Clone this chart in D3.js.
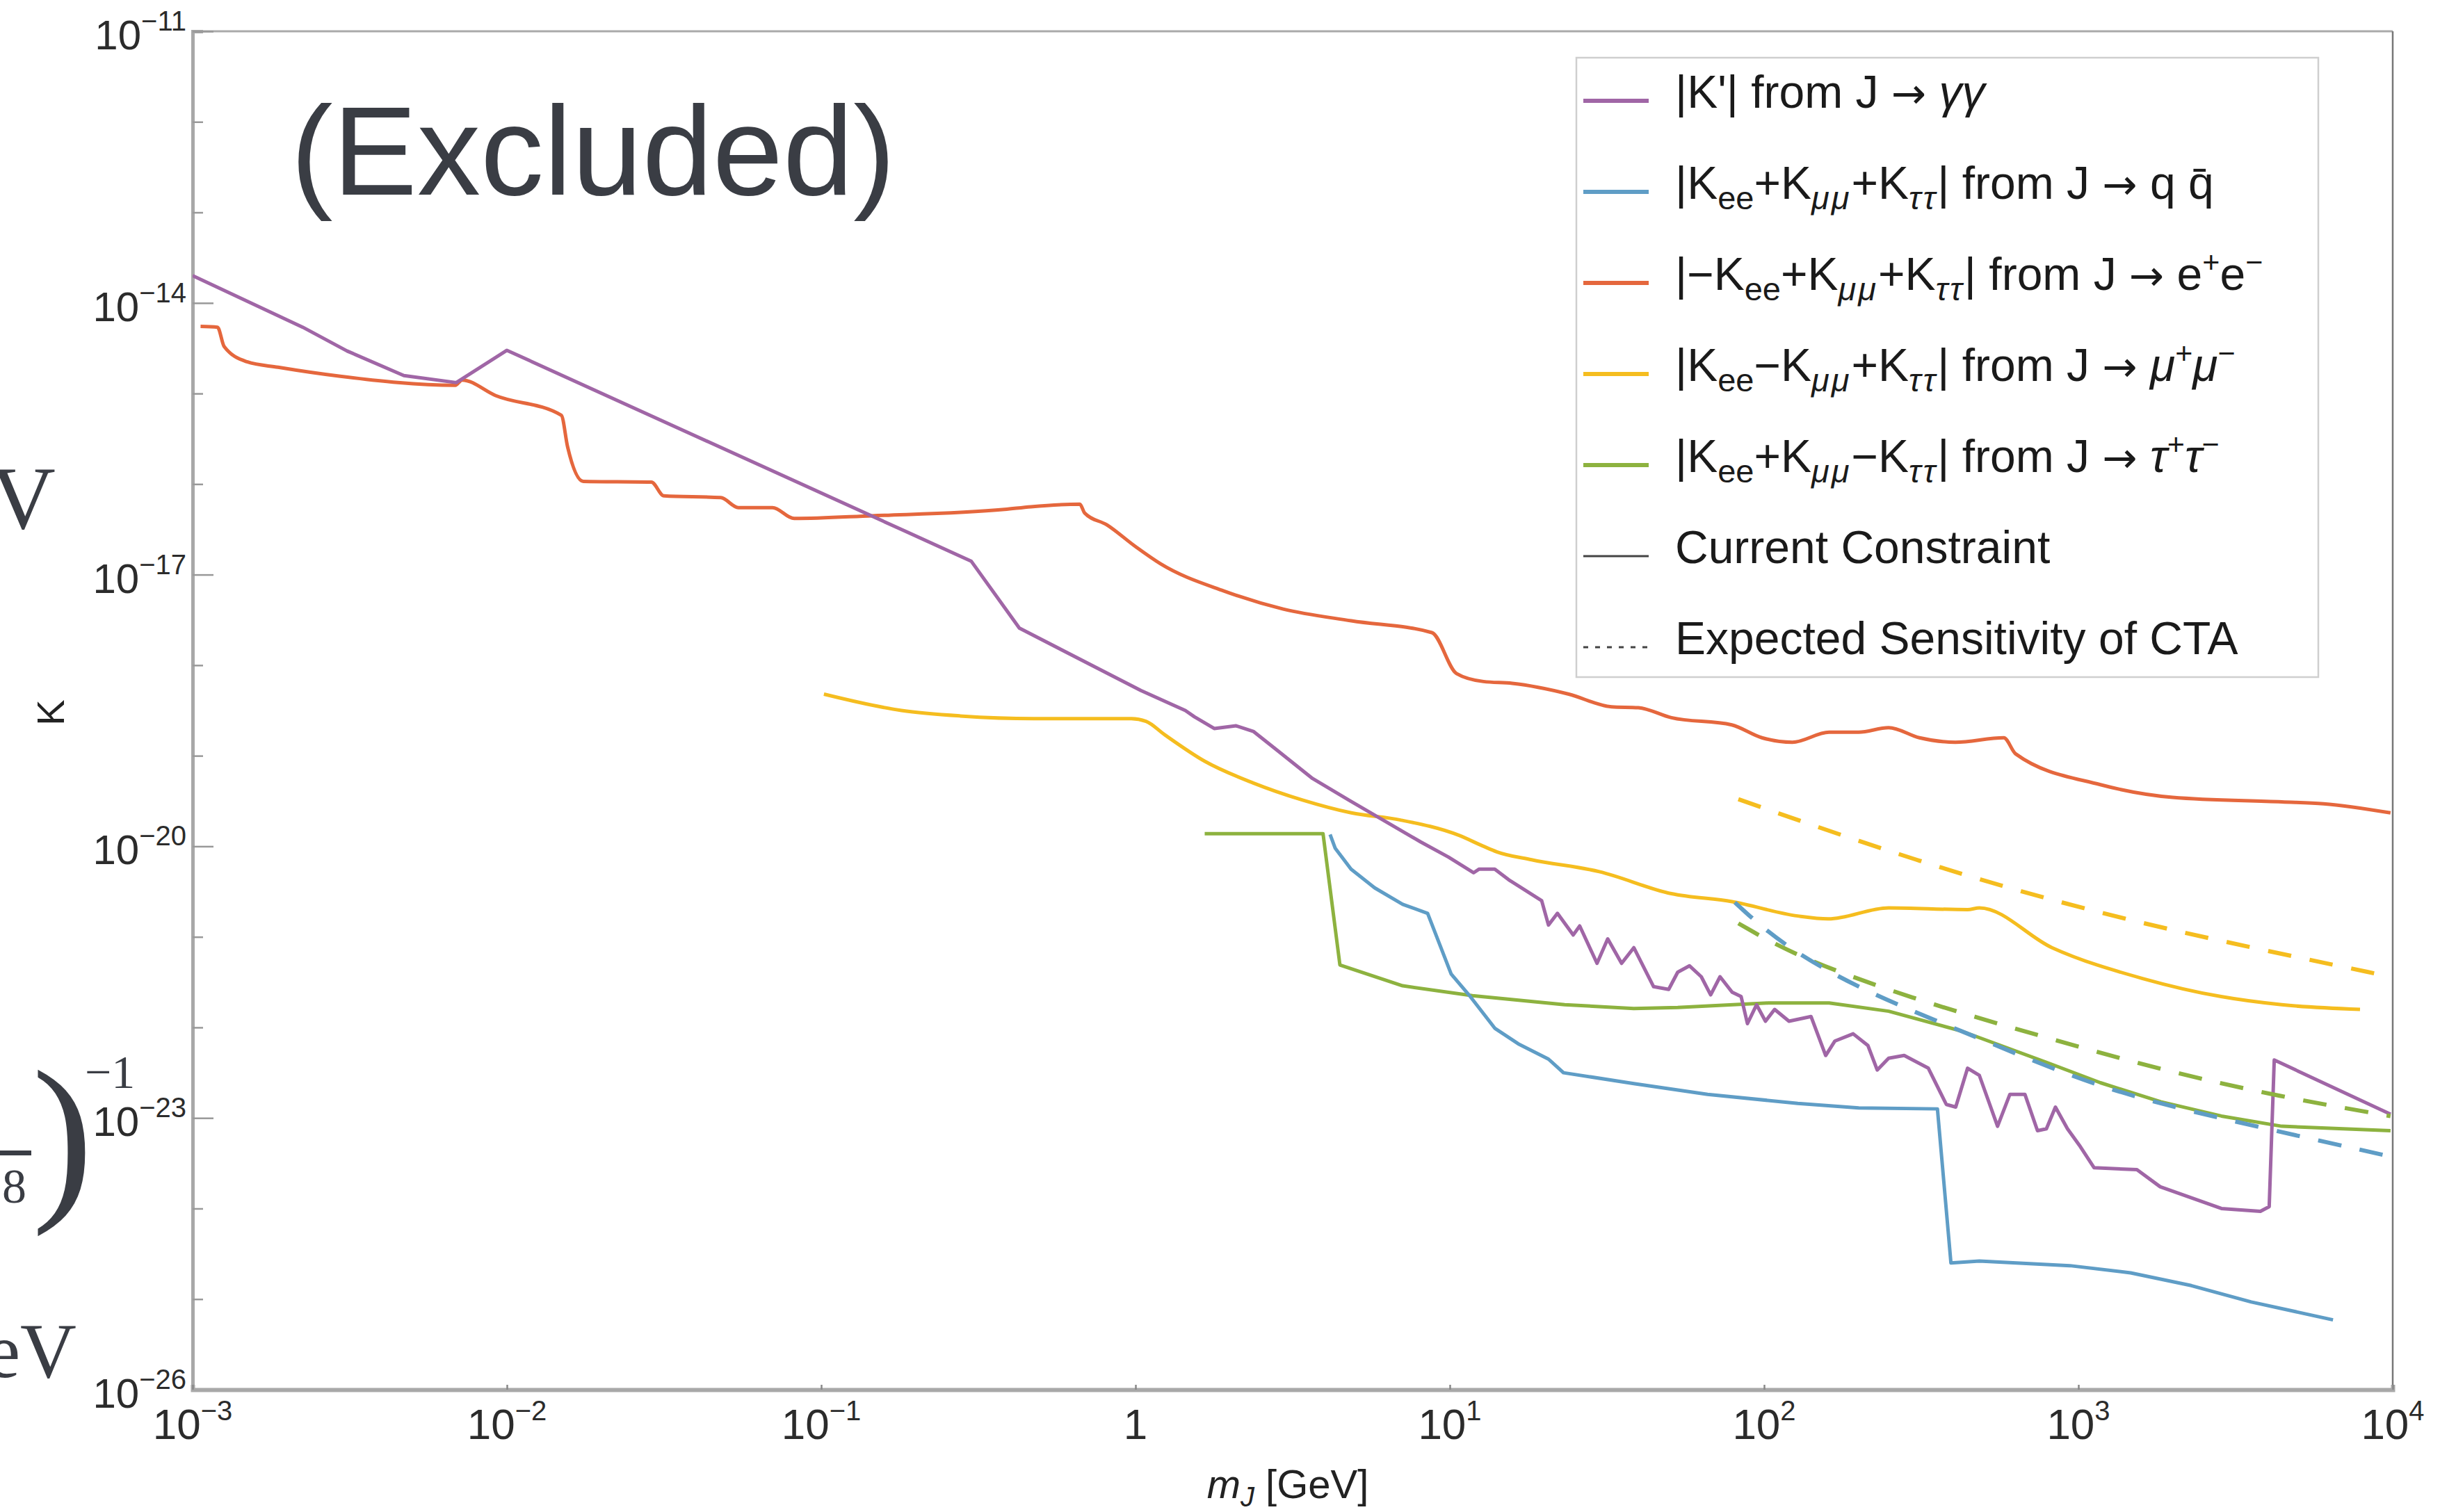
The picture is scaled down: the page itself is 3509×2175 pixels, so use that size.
<!DOCTYPE html>
<html>
<head>
<meta charset="utf-8">
<script src="https://cdn.jsdelivr.net/npm/d3@7"></script>
<style>
  html, body { margin: 0; padding: 0; background: #fff; }
  svg { display: block; }
  text { font-family: "Liberation Sans", Arial, Helvetica, sans-serif; }
</style>
</head>
<body>
<div id="chart"></div>
<script>
// [m_J in GeV, K]
const purpleK = [
  [1.0e-3, 2.0e-14], [2.24e-3, 5.4e-15], [3.1e-3, 2.95e-15], [4.7e-3, 1.58e-15], [6.9e-3, 1.32e-15],
  [1.0e-2, 3.0e-15], [0.30, 1.41e-17], [0.427, 2.57e-18], [1.04, 5.25e-19], [1.44, 3.16e-19],
  [1.54, 2.69e-19], [1.78, 2.0e-19], [2.09, 2.14e-19], [2.37, 1.86e-19], [2.85, 1.12e-19],
  [3.66, 5.6e-20], [4.77, 3.24e-20], [8.07, 1.12e-20], [9.9, 7.6e-21], [11.9, 5.1e-21],
  [12.4, 5.6e-21], [13.9, 5.6e-21], [15.4, 4.27e-21], [19.6, 2.51e-21],
  [20.6, 1.35e-21], [22.0, 1.82e-21], [24.7, 1.05e-21], [25.9, 1.32e-21],
  [29.4, 5.1e-22], [31.8, 9.5e-22], [35.2, 5.1e-22], [38.5, 7.6e-22], [44.5, 2.82e-22],
  [49.7, 2.63e-22], [53.1, 4.07e-22], [57.9, 4.79e-22], [63.1, 3.63e-22], [67.6, 2.29e-22],
  [72.4, 3.63e-22], [79.1, 2.45e-22], [84.5, 2.19e-22], [88.5, 1.10e-22], [94.6, 1.78e-22],
  [101, 1.17e-22], [108, 1.58e-22], [120, 1.17e-22], [141, 1.32e-22], [157, 4.9e-23],
  [168, 7.08e-23], [192, 8.5e-23], [214, 6.3e-23], [229, 3.39e-23], [249, 4.57e-23],
  [279, 4.9e-23], [333, 3.55e-23], [380, 1.41e-23], [407, 1.32e-23], [444, 3.55e-23],
  [484, 2.95e-23], [553, 8.1e-24], [605, 1.82e-23], [676, 1.82e-23], [741, 7.24e-24],
  [791, 7.6e-24], [845, 1.32e-23], [923, 7.6e-24], [1007, 5.0e-24], [1122, 2.82e-24],
  [1535, 2.69e-24], [1820, 1.74e-24], [2851, 1.0e-24], [3793, 9.3e-25], [4046, 1.05e-24],
  [4198, 4.37e-23], [9840, 1.10e-23]
];

const blueQQ = [
  [4.16, 1.35e-20], [4.32, 9.5e-21], [4.85, 5.6e-21], [5.77, 3.47e-21], [7.08, 2.29e-21],
  [8.5, 1.82e-21], [10.1, 3.89e-22], [11.5, 2.29e-22], [13.9, 9.8e-23], [16.5, 6.6e-23],
  [20.6, 4.47e-23], [23.0, 3.16e-23], [38.5, 2.4e-23], [66.1, 1.82e-23],
  [128, 1.45e-23], [200, 1.29e-23], [356, 1.26e-23], [393, 2.51e-25], [484, 2.63e-25],
  [940, 2.34e-25], [1466, 1.95e-25], [2286, 1.41e-25], [3548, 9.3e-26], [6457, 5.9e-26]
];

const orangeEE = [
  [1.06e-3, 5.5e-15], [1.2e-3, 5.4e-15], [1.26e-3, 3.3e-15], [1.49e-3, 2.24e-15], [1.87e-3, 1.95e-15],
  [2.95e-3, 1.55e-15], [6.85e-3, 1.23e-15], [7.2e-3, 1.41e-15], [9.2e-3, 9.5e-16], [1.49e-2, 5.75e-16],
  [1.56e-2, 2.57e-16], [1.75e-2, 1.07e-16], [2.88e-2, 1.05e-16], [3.16e-2, 7.4e-17], [4.79e-2, 7.08e-17],
  [5.45e-2, 5.5e-17], [7.0e-2, 5.5e-17], [8.2e-2, 4.17e-17], [0.145, 4.47e-17], [0.383, 5.25e-17],
  [0.465, 5.62e-17], [0.665, 6.0e-17], [0.689, 4.79e-17], [0.81, 3.55e-17], [1.0, 2.04e-17],
  [1.2, 1.32e-17], [1.91, 6.6e-18], [2.95, 4.17e-18], [4.86, 3.09e-18], [8.77, 2.29e-18],
  [10.5, 8.1e-19], [12.8, 6.6e-19], [15.8, 6.3e-19], [23.9, 4.79e-19], [32.7, 3.47e-19],
  [39.8, 3.39e-19], [50.7, 2.63e-19], [78.9, 2.19e-19], [98.4, 1.58e-19], [123, 1.41e-19],
  [161, 1.82e-19], [200, 1.82e-19], [249, 2.04e-19], [312, 1.58e-19], [406, 1.41e-19],
  [579, 1.58e-19], [631, 1.05e-19], [1175, 4.79e-20], [1995, 3.47e-20], [4436, 3.09e-20],
  [6026, 2.95e-20], [9840, 2.34e-20]
];

const yellowMuMu = [
  [0.102, 4.79e-19], [0.18, 3.16e-19], [0.277, 2.75e-19], [0.475, 2.57e-19], [0.97, 2.57e-19],
  [1.08, 2.4e-19], [1.24, 1.7e-19], [1.66, 8.7e-20], [2.37, 5.0e-20], [3.4, 3.24e-20],
  [4.86, 2.34e-20], [6.97, 1.95e-20], [10.7, 1.32e-20], [12.8, 1.0e-20], [14.1, 8.7e-21],
  [18.2, 7.1e-21], [29.9, 5.25e-21], [50.7, 3.0e-21], [79.1, 2.45e-21], [128, 1.7e-21],
  [160, 1.58e-21], [249, 2.09e-21], [444, 2.0e-21], [484, 2.09e-21], [824, 7.6e-22],
  [1600, 3.47e-22], [2844, 2.19e-22], [4436, 1.78e-22], [7870, 1.58e-22]
];

const greenTauTau = [
  [1.66, 1.38e-20], [3.95, 1.38e-20], [4.47, 4.9e-22], [7.08, 2.88e-22], [11.8, 2.24e-22],
  [23.2, 1.78e-22], [38.5, 1.62e-22], [53.1, 1.66e-22], [103, 1.86e-22], [161, 1.86e-22],
  [249, 1.51e-22], [425, 9.1e-23], [755, 4.37e-23], [1175, 2.45e-23], [1828, 1.51e-23],
  [2851, 1.05e-23], [4436, 8.1e-24], [9840, 7.24e-24]
];

// expected CTA sensitivity (dashed)
const yellowCTA = [[82.8, 3.31e-20], [312, 6.6e-21], [1175, 1.78e-21], [3548, 7.6e-22], [9840, 3.63e-22]];
const blueCTA = [[80.7, 2.4e-21], [112, 8.5e-22], [200, 2.63e-22], [484, 7.6e-23], [1175, 2.09e-23], [2851, 9.8e-24], [9397, 3.89e-24]];
const greenCTA = [[82.8, 1.41e-21], [128, 5.9e-22], [312, 1.95e-22], [755, 8.1e-23], [1828, 3.39e-23], [4436, 1.7e-23], [9840, 1.05e-23]];

const xTicks = [1e-3, 1e-2, 1e-1, 1, 1e1, 1e2, 1e3, 1e4];
const xTickExp = ['−3', '−2', '−1', '', '1', '2', '3', '4'];
const yTicks = [1e-11, 1e-14, 1e-17, 1e-20, 1e-23, 1e-26];
const yTickExp = ['−11', '−14', '−17', '−20', '−23', '−26'];
const yMinorTicks = [1e-12, 1e-13, 1e-15, 1e-16, 1e-18, 1e-19, 1e-21, 1e-22, 1e-24, 1e-25];

const legendLabels = [
  [["|K'| from J ", ""], ["→", "arrow"], [" ", ""], ["γγ", "i"]],
  [["|K", ""], ["ee", "sub"], ["+K", ""], ["μμ", "subi"], ["+K", ""], ["ττ", "subi"], ["| from J ", ""], ["→", "arrow"], [" q q\u0304", ""]],
  [["|−K", ""], ["ee", "sub"], ["+K", ""], ["μμ", "subi"], ["+K", ""], ["ττ", "subi"], ["| from J ", ""], ["→", "arrow"], [" e", ""], ["+", "sup"], ["e", ""], ["−", "sup"]],
  [["|K", ""], ["ee", "sub"], ["−K", ""], ["μμ", "subi"], ["+K", ""], ["ττ", "subi"], ["| from J ", ""], ["→", "arrow"], [" ", ""], ["μ", "i"], ["+", "sup"], ["μ", "i"], ["−", "sup"]],
  [["|K", ""], ["ee", "sub"], ["+K", ""], ["μμ", "subi"], ["−K", ""], ["ττ", "subi"], ["| from J ", ""], ["→", "arrow"], [" ", ""], ["τ", "i"], ["+", "sup"], ["τ", "i"], ["−", "sup"]],
  [["Current Constraint", ""]],
  [["Expected Sensitivity of CTA", ""]]
];

const colors = {
  purple: '#a066a6',
  blue: '#5f9dc6',
  orange: '#e5673d',
  yellow: '#f5bd1f',
  green: '#8db23f',
  dark: '#444'
};

const W = 3509, H = 2175;
const margin = {top: 45, right: 68, bottom: 176, left: 277};
const width = W - margin.left - margin.right;
const height = H - margin.top - margin.bottom;

const svg = d3.select('#chart')
  .append('svg')
    .attr('width', W)
    .attr('height', H);

// pieces of the neighbouring figure that are cut off at the left edge
const serif = '"Liberation Serif", "Times New Roman", serif';
const clip = svg.append('g').attr('fill', '#3a3d44');
clip.append('text').attr('x', 80).attr('y', 760).attr('text-anchor', 'end')
  .style('font-family', serif).attr('font-size', 130).text('V');
clip.append('text').attr('x', 46).attr('y', 1722)
  .style('font-family', serif).attr('font-size', 264).text(')');
clip.append('text').attr('x', 122).attr('y', 1565)
  .style('font-family', serif).attr('font-size', 68).text('−1');
clip.append('text').attr('x', 38).attr('y', 1730).attr('text-anchor', 'end')
  .style('font-family', serif).attr('font-size', 70).text('8');
clip.append('rect').attr('x', 0).attr('y', 1655).attr('width', 45).attr('height', 7);
clip.append('text').attr('x', 110).attr('y', 1981).attr('text-anchor', 'end')
  .style('font-family', serif).attr('font-size', 112).text('eV');

const g = svg.append('g')
  .attr('transform', `translate(${margin.left}, ${margin.top})`);

const x = d3.scaleLog().domain([1e-3, 1e4]).range([0, width]);
const y = d3.scaleLog().domain([1e-26, 1e-11]).range([height, 0]);

// frame
g.append('line').attr('x1', 0).attr('x2', width).attr('y1', 0).attr('y2', 0)
  .attr('stroke', '#aaa').attr('stroke-width', 3);
g.append('line').attr('x1', width).attr('x2', width).attr('y1', 0).attr('y2', height)
  .attr('stroke', '#777').attr('stroke-width', 2.5);

// y axis
const yAxis = g.append('g')
  .call(d3.axisLeft(y).tickValues(yTicks.concat(yMinorTicks)).tickSize(-15).tickFormat(''));
yAxis.select('.domain').attr('stroke', '#a8a8a8').attr('stroke-width', 5);
yAxis.selectAll('.tick line')
  .attr('stroke', '#999').attr('stroke-width', 2.5)
  .attr('x2', (d) => yTicks.includes(d) ? 30 : 15);

yTicks.forEach((v, i) => {
  const t = g.append('text')
    .attr('x', -9)
    .attr('y', y(v) + 26)
    .attr('text-anchor', 'end')
    .attr('fill', '#2b2b2b')
    .attr('font-size', 60);
  t.append('tspan').text('10');
  t.append('tspan').attr('dy', -27).attr('font-size', 40).text(yTickExp[i]);
});

// x axis
const xAxis = g.append('g')
  .attr('transform', `translate(0, ${height})`)
  .call(d3.axisBottom(x).tickValues(xTicks).tickSize(-7).tickFormat(''));
xAxis.select('.domain').attr('stroke', '#a8a8a8').attr('stroke-width', 6);
xAxis.selectAll('.tick line').attr('stroke', '#888').attr('stroke-width', 2.5);

xTicks.forEach((v, i) => {
  const t = g.append('text')
    .attr('x', x(v))
    .attr('y', height + 71)
    .attr('text-anchor', 'middle')
    .attr('fill', '#2b2b2b')
    .attr('font-size', 62);
  if (xTickExp[i] === '') {
    t.text('1');
  } else {
    t.append('tspan').text('10');
    t.append('tspan').attr('dy', -27).attr('font-size', 40).text(xTickExp[i]);
  }
});

// axis titles
const xTitle = g.append('text')
  .attr('x', x(1e1) - 233)
  .attr('y', height + 156)
  .attr('text-anchor', 'middle')
  .attr('fill', '#222')
  .attr('font-size', 58);
xTitle.append('tspan').attr('font-style', 'italic').text('m');
xTitle.append('tspan').attr('font-style', 'italic').attr('font-size', 40).attr('dy', 12).text('J');
xTitle.append('tspan').attr('dy', -12).text(' [GeV]');

svg.append('text')
  .attr('transform', `translate(92, 1025) rotate(-90)`)
  .attr('text-anchor', 'middle')
  .attr('fill', '#222')
  .attr('font-size', 56)
  .text('K');

// curves
g.append('clipPath').attr('id', 'plot-clip')
  .append('rect').attr('width', width).attr('height', height);

const line = d3.line()
  .x((d) => x(d[0]))
  .y((d) => y(d[1]));
const smooth = d3.line()
  .x((d) => x(d[0]))
  .y((d) => y(d[1]))
  .curve(d3.curveMonotoneX);

const plot = g.append('g').attr('clip-path', 'url(#plot-clip)');

const series = [
  {data: orangeEE, color: colors.orange, gen: smooth},
  {data: yellowMuMu, color: colors.yellow, gen: smooth},
  {data: greenTauTau, color: colors.green, gen: line},
  {data: blueQQ, color: colors.blue, gen: line},
  {data: purpleK, color: colors.purple, gen: line}
];
series.forEach((s) => {
  plot.append('path')
    .datum(s.data)
    .attr('fill', 'none')
    .attr('stroke', s.color)
    .attr('stroke-width', 5)
    .attr('stroke-linejoin', 'round')
    .attr('d', s.gen);
});

[[yellowCTA, colors.yellow], [greenCTA, colors.green], [blueCTA, colors.blue]].forEach(([data, color]) => {
  plot.append('path')
    .datum(data)
    .attr('fill', 'none')
    .attr('stroke', color)
    .attr('stroke-width', 6)
    .attr('stroke-dasharray', '34,27')
    .attr('d', d3.line().x((d) => x(d[0])).y((d) => y(d[1])).curve(d3.curveBasis));
});

// big label
svg.append('text')
  .attr('x', 418)
  .attr('y', 280)
  .attr('fill', '#3a3d44')
  .attr('font-size', 182)
  .text('(Excluded)');

// legend
const legend = svg.append('g');
legend.append('rect')
  .attr('x', 2267).attr('y', 83)
  .attr('width', 1067).attr('height', 891)
  .attr('fill', '#fff')
  .attr('stroke', '#cfcfcf')
  .attr('stroke-width', 2.5);

const legendStyles = [
  {color: colors.purple, w: 6},
  {color: colors.blue, w: 6},
  {color: colors.orange, w: 6},
  {color: colors.yellow, w: 6},
  {color: colors.green, w: 6},
  {color: colors.dark, w: 3},
  {color: colors.dark, w: 3, dash: '7,10'}
];

const fs = 66;
legendLabels.forEach((parts, i) => {
  const cy = 145 + i * 131;
  const st = legendStyles[i];
  legend.append('line')
    .attr('x1', 2277).attr('x2', 2371)
    .attr('y1', cy).attr('y2', cy)
    .attr('stroke', st.color)
    .attr('stroke-width', st.w)
    .attr('stroke-dasharray', st.dash || null);

  const t = legend.append('text')
    .attr('x', 2409)
    .attr('y', cy + 10)
    .attr('fill', '#1a1a1a')
    .attr('font-size', fs)
    .style('white-space', 'pre');
  let shift = 0;
  parts.forEach(([str, kind]) => {
    let target = 0, size = fs, italic = false, family = null, spacing = null;
    if (kind === 'sub' || kind === 'subi') { target = 15; size = 47; italic = kind === 'subi'; }
    if (kind === 'subi') spacing = 3;
    if (kind === 'sup') { target = -25; size = 43; }
    if (kind === 'i') { italic = true; }
    if (kind === 'arrow') { family = '"DejaVu Sans", sans-serif'; size = 60; }
    t.append('tspan')
      .attr('dy', target - shift)
      .attr('font-size', size)
      .attr('font-style', italic ? 'italic' : null)
      .attr('letter-spacing', spacing)
      .style('font-family', family)
      .text(str);
    shift = target;
  });
});
</script>
</body>
</html>
